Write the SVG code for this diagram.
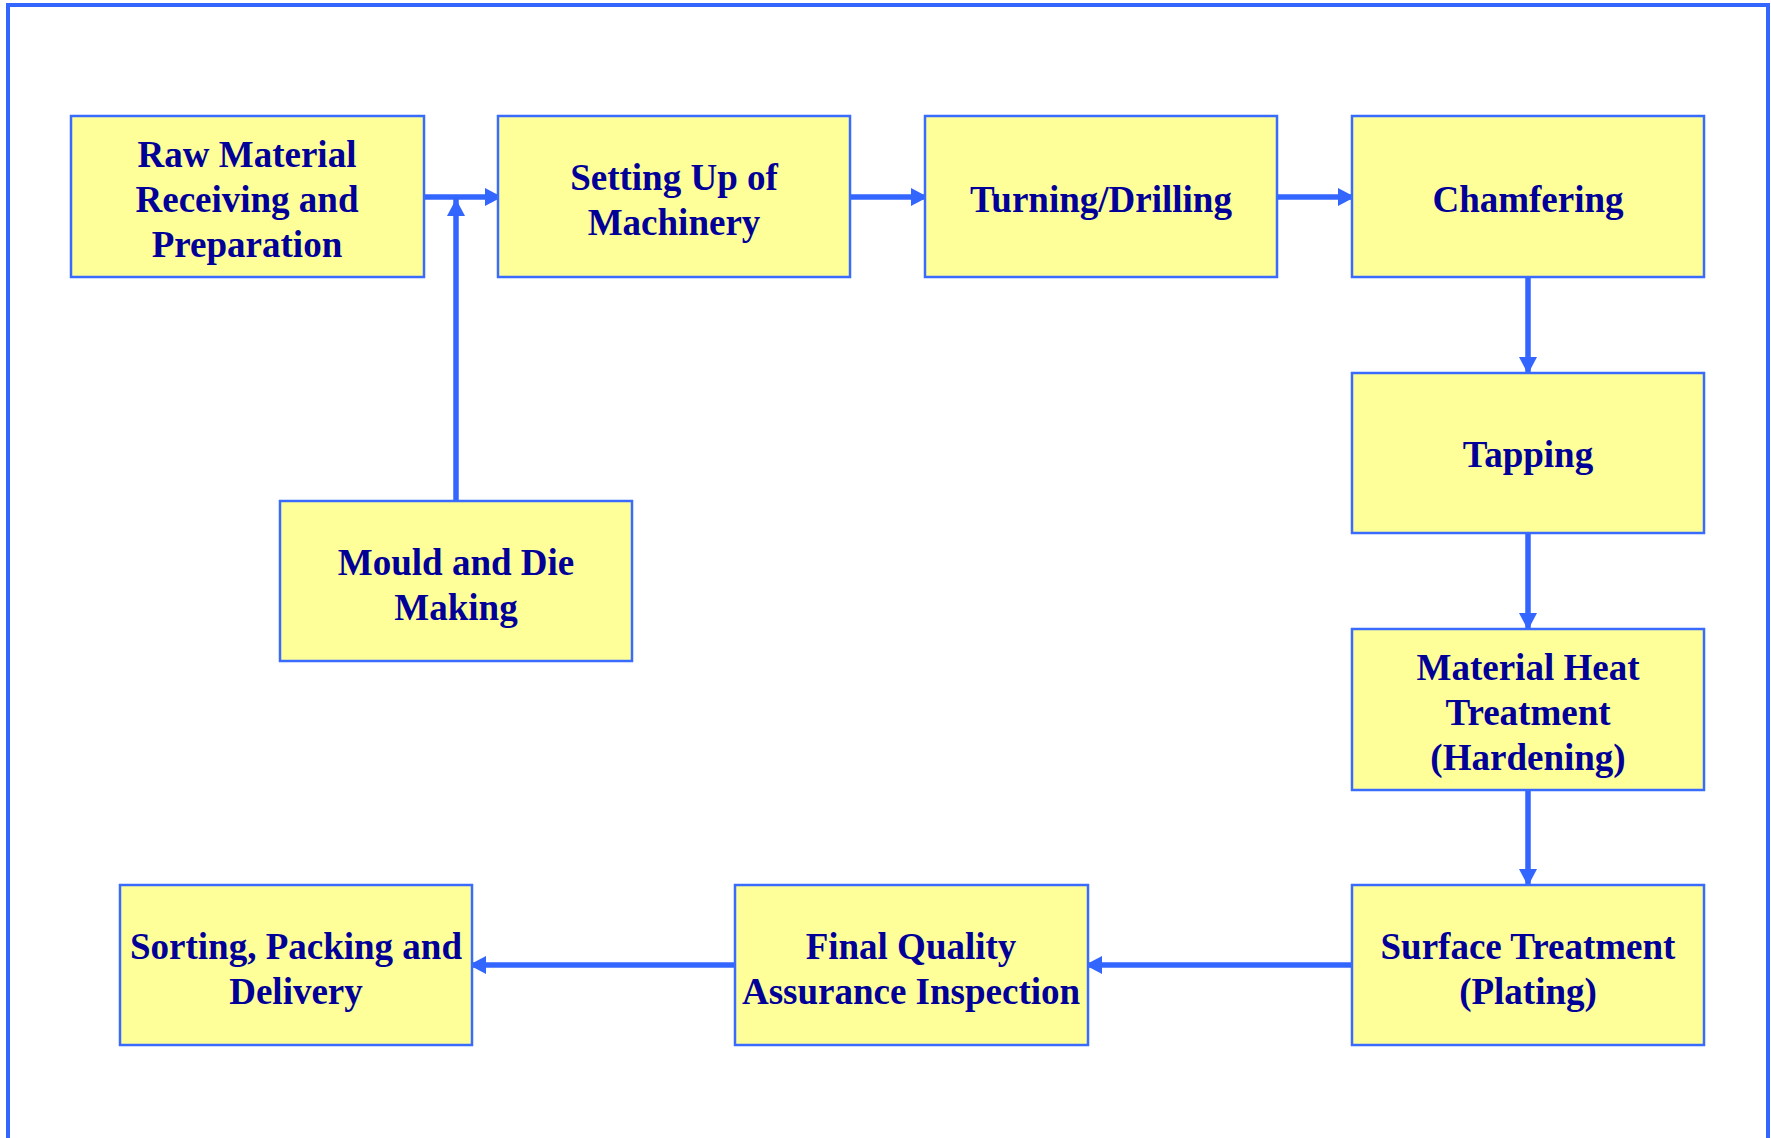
<svg xmlns="http://www.w3.org/2000/svg" width="1771" height="1138" viewBox="0 0 1771 1138">
<style>
.box{fill:#FFFF99;stroke:#3A6BFF;stroke-width:2.5}
.lbl{font-family:"Liberation Serif","Times New Roman",serif;font-weight:bold;font-size:37px;fill:#000099;text-anchor:middle}
.conn{stroke:#3366FF;stroke-width:5.5;fill:none}
</style>
<defs>
<marker id="ah" markerUnits="userSpaceOnUse" markerWidth="18" markerHeight="18" viewBox="0 0 18 18" refX="17" refY="9" orient="auto">
<path d="M0,0 L17,9 L0,18 Z" fill="#3366FF"/>
</marker>
</defs>
<rect width="1771" height="1138" fill="#FFFFFF"/>
<rect x="8" y="5" width="1760" height="1160" fill="none" stroke="#3366FF" stroke-width="4"/>

<g id="connectors">
<line class="conn" x1="424" y1="197" x2="502" y2="197" marker-end="url(#ah)"/>
<line class="conn" x1="456" y1="501" x2="456" y2="199" marker-end="url(#ah)"/>
<line class="conn" x1="850" y1="197" x2="928" y2="197" marker-end="url(#ah)"/>
<line class="conn" x1="1277" y1="197" x2="1355" y2="197" marker-end="url(#ah)"/>
<line class="conn" x1="1528" y1="277" x2="1528" y2="374" marker-end="url(#ah)"/>
<line class="conn" x1="1528" y1="533" x2="1528" y2="630" marker-end="url(#ah)"/>
<line class="conn" x1="1528" y1="790" x2="1528" y2="886" marker-end="url(#ah)"/>
<line class="conn" x1="1352" y1="965" x2="1085" y2="965" marker-end="url(#ah)"/>
<line class="conn" x1="735" y1="965" x2="469" y2="965" marker-end="url(#ah)"/>
</g>

<g id="raw">
<rect class="box" x="71" y="116" width="353" height="161"/>
<text class="lbl" x="247" y="167">Raw Material</text>
<text class="lbl" x="247" y="212">Receiving and</text>
<text class="lbl" x="247" y="257">Preparation</text>
</g>
<g id="setting">
<rect class="box" x="498" y="116" width="352" height="161"/>
<text class="lbl" x="674" y="190">Setting Up of</text>
<text class="lbl" x="674" y="235">Machinery</text>
</g>
<g id="turning">
<rect class="box" x="925" y="116" width="352" height="161"/>
<text class="lbl" x="1101" y="212">Turning/Drilling</text>
</g>
<g id="chamfering">
<rect class="box" x="1352" y="116" width="352" height="161"/>
<text class="lbl" x="1528" y="212">Chamfering</text>
</g>
<g id="mould">
<rect class="box" x="280" y="501" width="352" height="160"/>
<text class="lbl" x="456" y="575">Mould and Die</text>
<text class="lbl" x="456" y="620">Making</text>
</g>
<g id="tapping">
<rect class="box" x="1352" y="373" width="352" height="160"/>
<text class="lbl" x="1528" y="467">Tapping</text>
</g>
<g id="heat">
<rect class="box" x="1352" y="629" width="352" height="161"/>
<text class="lbl" x="1528" y="680">Material Heat</text>
<text class="lbl" x="1528" y="725">Treatment</text>
<text class="lbl" x="1528" y="770">(Hardening)</text>
</g>
<g id="surface">
<rect class="box" x="1352" y="885" width="352" height="160"/>
<text class="lbl" x="1528" y="959">Surface Treatment</text>
<text class="lbl" x="1528" y="1004">(Plating)</text>
</g>
<g id="final">
<rect class="box" x="735" y="885" width="353" height="160"/>
<text class="lbl" x="911" y="959">Final Quality</text>
<text class="lbl" x="911" y="1004">Assurance Inspection</text>
</g>
<g id="sorting">
<rect class="box" x="120" y="885" width="352" height="160"/>
<text class="lbl" x="296" y="959">Sorting, Packing and</text>
<text class="lbl" x="296" y="1004">Delivery</text>
</g>
</svg>
